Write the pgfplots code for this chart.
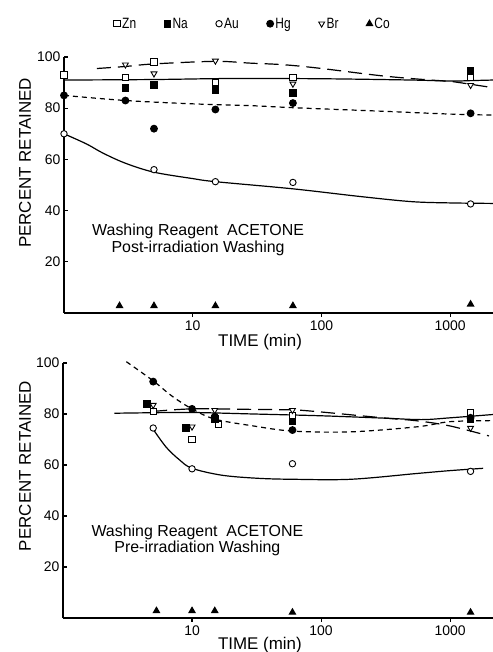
\documentclass[border=0pt]{standalone}
\usepackage{pgfplots}
\pgfplotsset{compat=1.18}
\usepackage{fontspec}
\setmainfont{Liberation Sans}
\newfontfamily\legfont[FakeStretch=0.8]{Liberation Sans}

% shared axis look for both panels
\pgfplotsset{
  every axis/.append style={
    scale only axis,
    xmode=log, xmin=1, xmax=2150, ymin=0, ymax=100,
    axis x line*=bottom, axis y line*=left,
    axis line style={line width=1.6bp},
    xtick={10,100,1000}, xticklabels={10,100,1000},
    xminorticks=false,
    ytick={20,40,60,80,100},
    xtick align=outside, ytick align=inside,
    major tick length=4bp,
    tick style={line width=1.1bp, black},
    tick label style={font=\fontsize{14}{16}\selectfont},
    /pgf/number format/assume math mode=true,
    label style={font=\fontsize{17}{19}\selectfont},
    xlabel={TIME (min)},
    ylabel={PERCENT RETAINED},
    clip=false,
    legend image code/.code={\draw[##1] plot coordinates {(0bp,0bp)};},
  },
  every axis plot/.append style={line width=1.2bp, black},
}
\tikzset{
  washnote/.style={align=center, font=\fontsize{16}{16.5}\selectfont},
  shortdash/.style={dash pattern=on 5bp off 4bp},
  longdash/.style={dash pattern=on 14bp off 7bp},
}

\begin{document}
\begin{tikzpicture}
\useasboundingbox (0,0) rectangle (493bp,652bp);

% ---- post-irradiation washing ----
\begin{axis}[
  at={(64bp,339bp)}, anchor=south west, width=429bp, height=256bp,
  xlabel style={at={(axis description cs:0.457,-0.112)}, anchor=center},
  ylabel style={at={(axis description cs:-0.091,0.586)}, anchor=center},
  legend style={draw=none, fill=none, at={(axis description cs:0.44,1.13)},
    anchor=center, legend columns=6, font=\legfont\fontsize{15}{16}\selectfont,
    /tikz/every even column/.append style={column sep=26bp}},
  legend cell align=left,
]
% fitted curves
\addplot[smooth, tension=0.55, no marks, forget plot] coordinates {(1,91) (5,91.2) (20,91.6) (100,91.5) (500,91) (1000,90.6) (1500,90.8) (2150,91)};
\addplot[smooth, tension=0.55, no marks, forget plot, longdash] coordinates {(1.8,95.5) (3,96.3) (5,97.3) (15,98.3) (28,97.6) (50,97) (93,95.7) (300,92.6) (700,91) (1000,90.5) (2150,88)};
\addplot[smooth, tension=0.55, no marks, forget plot, shortdash] coordinates {(1,85) (3,83) (10,81.7) (28,81) (60,80.2) (300,78.8) (1000,77.7) (2150,77.3)};
\addplot[smooth, tension=0.55, no marks, forget plot] coordinates {(1,70) (1.5,66) (2,62.5) (3,58.5) (5,55) (10,52.5) (15,51.3) (60,48.5) (200,45.5) (500,43.5) (1000,43) (2150,42.8)};
% measured values
\addplot[only marks, mark=square*, mark size=3.2bp, mark options={fill=white, line width=0.9bp}]
  coordinates {(1,93) (3,92) (5,98) (15,90) (60,92) (1440,92)};
\addlegendentry{Zn}
\addplot[only marks, mark=square*, mark size=3.2bp, mark options={fill=black}]
  coordinates {(3,88) (5,89) (15,87) (60,86) (1440,94.5)};
\addlegendentry{Na}
\addplot[only marks, mark=*, mark size=3.2bp, mark options={fill=white, line width=0.9bp}]
  coordinates {(1,70) (5,56) (15,51.3) (60,51) (1440,42.6)};
\addlegendentry{Au}
\addplot[only marks, mark=*, mark size=3.3bp, mark options={fill=black}]
  coordinates {(1,85) (3,83) (5,72) (15,79.5) (60,82) (1440,78)};
\addlegendentry{Hg}
\addplot[only marks, mark=triangle*, mark size=3.4bp, mark options={fill=white, rotate=180, line width=0.9bp}]
  coordinates {(3,97) (5,93.5) (15,98.5) (60,89.5) (1440,89)};
\addlegendentry{Br}
\addplot[only marks, mark=triangle*, mark size=3.4bp, mark options={fill=black}]
  coordinates {(2.7,2.8) (5,2.8) (15,2.8) (60,2.8) (1440,3.4)};
\addlegendentry{Co}
\node[washnote] at (axis cs:11,28.5) {Washing Reagent\ \ ACETONE\\Post-irradiation Washing};
\end{axis}

% ---- pre-irradiation washing ----
\begin{axis}[
  at={(63bp,34bp)}, anchor=south west, width=430bp, height=255bp,
  xlabel style={at={(axis description cs:0.458,-0.108)}, anchor=center},
  ylabel style={at={(axis description cs:-0.088,0.596)}, anchor=center},
]
% fitted curves
\addplot[smooth, tension=0.55, no marks] coordinates {(2.5,80.3) (5,80.5) (10,80.6) (30,80) (100,79.3) (300,78.4) (600,77.8) (1000,78.5) (2150,79.8)};
\addplot[smooth, tension=0.55, no marks, longdash] coordinates {(5,81) (10,82) (30,81.8) (60,81.6) (90,81) (300,78.5) (560,77.3) (1000,75.3) (2000,71.4)};
\addplot[smooth, tension=0.55, no marks, shortdash] coordinates {(3.1,100.5) (5,93) (7,87) (10,82) (15,78) (30,75.3) (60,73.3) (170,73) (560,75) (1000,77) (2150,77.4)};
\addplot[smooth, tension=0.55, no marks] coordinates {(5,74) (6.3,67) (8,62) (10,58.7) (17,56) (32,54.8) (60,54.4) (170,54.4) (560,56.7) (1000,57.8) (1800,58.7)};
% measured values
\addplot[only marks, mark=square*, mark size=3.2bp, mark options={fill=white, line width=0.9bp}] coordinates {(5,81) (10,70) (16,76) (60,79.5) (1440,80.5)};
\addplot[only marks, mark=square*, mark size=3.2bp, mark options={fill=black}] coordinates {(4.5,84) (9,74.5) (15,78) (60,77) (1440,78)};
\addplot[only marks, mark=*, mark size=3.2bp, mark options={fill=white, line width=0.9bp}] coordinates {(5,74.5) (10,58.5) (60,60.5) (1440,57.5)};
\addplot[only marks, mark=*, mark size=3.3bp, mark options={fill=black}] coordinates {(5,92.7) (10,82) (15,79) (60,73.7) (1440,78.5)};
\addplot[only marks, mark=triangle*, mark size=3.4bp, mark options={fill=white, rotate=180, line width=0.9bp}] coordinates {(5,83.5) (10,75) (15,81.5) (60,81.5) (1440,74.5)};
\addplot[only marks, mark=triangle*, mark size=3.4bp, mark options={fill=black}] coordinates {(5.3,2.8) (10,2.8) (15,2.8) (60,2.2) (1440,2.2)};
\node[washnote] at (axis cs:11,30.4) {Washing Reagent\ \ ACETONE\\Pre-irradiation Washing};
\end{axis}
\end{tikzpicture}
\end{document}
